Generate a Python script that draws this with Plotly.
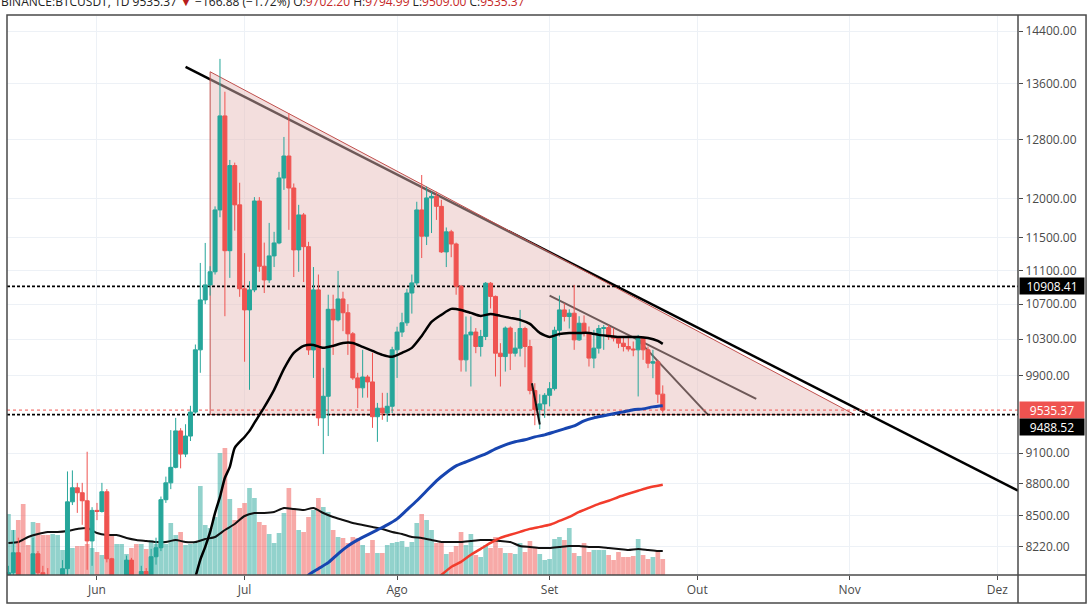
import math
import pandas as pd
import plotly.graph_objects as go

# daily candles BINANCE:BTCUSDT starting 2019-05-14
days = pd.date_range("2019-05-14", periods=134, freq="D")

opens = [7800, 7990, 8165, 7880, 7350, 7260, 8156, 7990, 7960, 7630,
         7880, 7930, 8025, 8630, 8763, 8716, 8640, 8271, 8550, 8540,
         8725, 8112, 7680, 7790, 7800, 8100, 7930, 7630, 8000, 7920,
         8130, 8210, 8650, 8810, 8960, 9322, 9090, 9270, 9515, 10181,
         10749, 10926, 11083, 11854, 13130, 11340, 12440, 11920, 10880, 10633,
         10867, 11970, 11150, 10985, 11276, 11436, 12273, 12570, 12140, 11350,
         11790, 11390, 10180, 10867, 9455, 9680, 10640, 10518, 10760, 10600,
         10360, 9875, 9769, 9885, 9832, 9467, 9555, 9505, 9575, 10181,
         10380, 10485, 10830, 10950, 11854, 11520, 12010, 12030, 11900, 11325,
         11575, 11423, 10910, 10071, 10348, 10380, 10218, 10330, 10946, 10790,
         10144, 10107, 10425, 10144, 10200, 10420, 10218, 9740, 9540, 9600,
         9690, 9760, 10400, 10633, 10557, 10595, 10292, 10480, 10375, 10090,
         10200, 10420, 10430, 10330, 10311, 10255, 10218, 10190, 10181, 10318,
         10181, 10035, 10050, 9702.20]
highs = [8050, 8370, 8300, 7930, 7450, 8300, 8180, 8050, 8030, 7960,
         7960, 8100, 8920, 8930, 8810, 8810, 9113, 8580, 8620, 8810,
         8750, 8120, 7900, 7880, 8140, 8120, 7940, 8050, 8030, 8200,
         8300, 8680, 8870, 9330, 9455, 9350, 9390, 9580, 10240, 11190,
         11436, 11150, 11900, 13970, 13480, 12516, 12480, 12210, 11310, 10970,
         12020, 12020, 11440, 11688, 11575, 12355, 12833, 13170, 12200, 11920,
         11815, 11450, 11140, 11050, 9984, 10810, 10810, 11093, 10845, 10700,
         10380, 9930, 10181, 9907, 10150, 9610, 9716, 9716, 10215, 10440,
         10600, 10880, 11050, 11960, 12313, 12160, 12090, 12090, 11985, 11630,
         11600, 11440, 10926, 10557, 10557, 10425, 10404, 10960, 10960, 10800,
         10255, 10443, 10443, 10380, 10633, 10440, 10292, 9818, 9700, 9713,
         9830, 10440, 10800, 10710, 10640, 10926, 10560, 10570, 10443, 10404,
         10460, 10460, 10460, 10425, 10330, 10330, 10311, 10274, 10348, 10330,
         10218, 10181, 10071, 9794.99]
lows = [7600, 7950, 7650, 6600, 7200, 7250, 7600, 7800, 7550, 7480,
        7800, 7900, 7950, 8600, 8527, 8417, 8015, 8050, 8460, 8530,
        8080, 7480, 7580, 7450, 7770, 7800, 7520, 7550, 7700, 7850,
        8060, 8180, 8620, 8750, 8950, 8950, 9060, 9220, 9500, 9930,
        10700, 10800, 11050, 11760, 10560, 11010, 11590, 10785, 10050, 9748,
        10840, 11083, 10830, 10950, 11140, 11420, 12115, 11600, 11020, 11083,
        10960, 10125, 9875, 9373, 9090, 9270, 10125, 10500, 10390, 10125,
        9854, 9556, 9665, 9665, 9353, 9212, 9435, 9414, 9505, 9875,
        10325, 10450, 10590, 10920, 11250, 11410, 11560, 11726, 11312, 11140,
        11260, 10810, 9943, 9943, 9783, 10144, 10107, 10290, 10650, 9890,
        9783, 9943, 9960, 10107, 10107, 9990, 9700, 9380, 9340, 9455,
        9574, 9740, 10330, 10500, 10420, 10181, 10280, 10330, 9998, 9980,
        10140, 10181, 10292, 10274, 10200, 10163, 10163, 10110, 9678, 10071,
        9980, 9872, 9609, 9509.00]
closes = [7990, 8165, 7880, 7350, 7260, 8156, 7990, 7960, 7630, 7880,
          7930, 8025, 8630, 8763, 8716, 8640, 8271, 8550, 8540, 8725,
          8112, 7680, 7790, 7800, 8100, 7930, 7630, 8000, 7920, 8130,
          8210, 8650, 8810, 8960, 9322, 9090, 9270, 9515, 10181, 10749,
          10926, 11083, 11854, 13130, 11340, 12440, 11920, 10880, 10633, 10867,
          11970, 11150, 10985, 11276, 11436, 12273, 12570, 12140, 11350, 11790,
          11390, 10180, 10867, 9455, 9680, 10640, 10518, 10760, 10600, 10360,
          9875, 9769, 9885, 9832, 9467, 9555, 9505, 9575, 10181, 10380,
          10485, 10830, 10950, 11854, 11520, 12010, 12030, 11900, 11325, 11575,
          11423, 10910, 10071, 10348, 10380, 10218, 10330, 10946, 10790, 10144,
          10107, 10425, 10144, 10200, 10420, 10218, 9740, 9540, 9600, 9690,
          9760, 10400, 10633, 10557, 10595, 10292, 10480, 10375, 10090, 10200,
          10420, 10430, 10330, 10311, 10255, 10218, 10190, 10181, 10318, 10181,
          10035, 10050, 9702.20, 9535.37]
# volume, thousand BTC
volumes = [61, 45, 55, 71, 30, 53, 52, 40, 40, 41,
           40, 25, 27, 27, 29, 29, 31, 27, 23, 20,
           59, 40, 31, 31, 21, 27, 31, 31, 26, 35,
           31, 31, 31, 52, 40, 43, 30, 31, 33, 89,
           50, 47, 58, 122, 127, 76, 55, 67, 72, 87,
           77, 53, 50, 41, 32, 42, 62, 87, 67, 45,
           43, 58, 65, 77, 68, 63, 45, 38, 37, 32,
           38, 37, 30, 22, 35, 22, 22, 30, 32, 33,
           34, 28, 33, 52, 61, 55, 45, 32, 33, 21,
           23, 29, 43, 30, 41, 20, 18, 30, 27, 38,
           27, 22, 22, 21, 32, 23, 34, 28, 21, 15,
           16, 36, 38, 35, 47, 22, 19, 32, 23, 25,
           25, 25, 20, 15, 23, 18, 18, 19, 36, 20,
           16, 18, 24, 16]

# moving averages (day index -> value)
ma_black_day = [38, 39, 40, 41, 42, 43, 44, 45, 46, 48, 49, 50, 52, 54, 56, 58, 60,
                62, 64, 66, 68, 70, 72, 74, 76, 78, 80, 82, 84, 86, 88, 90, 92, 94,
                96, 98, 100, 102, 104, 106, 108, 110, 112, 114, 116, 118, 120, 122,
                124, 126, 128, 130, 132, 133]
ma_black_val = [7950, 8103, 8217, 8352, 8527, 8676, 8859, 8964, 9152, 9261, 9322, 9404,
                9566, 9748, 9973, 10148, 10225, 10236, 10203, 10225, 10258, 10258, 10214,
                10170, 10126, 10104, 10148, 10203, 10336, 10495, 10576, 10645, 10633, 10599,
                10564, 10587, 10564, 10541, 10518, 10472, 10370, 10325, 10359, 10370, 10370,
                10370, 10348, 10336, 10325, 10325, 10325, 10314, 10280, 10247]
ma_blue_day = [60, 61, 63, 65, 67, 69, 71, 73, 75, 77, 79, 81, 83, 85, 87, 89, 91, 93,
               95, 97, 99, 101, 103, 105, 107, 109, 111, 113, 115, 117, 119, 121, 123,
               125, 127, 129, 131, 133]
ma_blue_val = [7900, 7970, 8025, 8078, 8156, 8226, 8280, 8326, 8371, 8417, 8472, 8555,
               8640, 8734, 8830, 8908, 8974, 9013, 9053, 9092, 9142, 9182, 9212, 9232,
               9262, 9282, 9312, 9343, 9373, 9424, 9455, 9476, 9497, 9517, 9538, 9548,
               9569, 9580]
ma_red_day = [87, 88, 90, 92, 94, 96, 98, 100, 102, 104, 106, 108, 110, 112, 114, 116,
              118, 120, 122, 124, 126, 128, 130, 132, 133]
ma_red_val = [7930, 7970, 8040, 8085, 8147, 8200, 8253, 8299, 8326, 8353, 8380, 8398,
              8417, 8453, 8490, 8536, 8574, 8611, 8640, 8676, 8706, 8734, 8763, 8782, 8791]
vol_ma_day = list(range(0, 134, 2)) + [133]
vol_ma_val = [32, 33, 38, 41, 43, 43, 44, 46, 47, 42, 40, 40, 37, 35, 34, 33, 33, 35,
              33, 33, 36, 38, 45, 51, 59, 62, 62, 63, 67, 66, 65, 67, 62, 58, 55, 52,
              50, 48, 46, 43, 41, 38, 37, 35, 33, 33, 33, 34, 35, 35, 34, 33, 29, 28,
              27, 27, 28, 29, 29, 28, 28, 27, 26, 25, 26, 25, 24, 24]

# drawings
level_top = 10908.41
level_base = 9488.52
last_price = 9535.37
trend_x = ["2019-06-19", "2019-12-05 05:00"]
trend_y = [13850, 8735]
tri_x = ["2019-06-24", "2019-06-24", "2019-11-02", "2019-06-24"]
tri_y = [13776, level_base, level_base, 13776]
wedge_a_x = ["2019-09-01", "2019-10-13"]
wedge_a_y = [10800, 9653]
wedge_b_x = ["2019-09-18 14:00", "2019-10-03 05:00"]
wedge_b_y = [10315, 9486]
tail_x = ["2019-08-28 10:00", "2019-08-30"]
tail_y = [9818, 9387]

x_range = ["2019-05-13 17:00", "2019-12-05 05:00"]
month_ticks = ["2019-06-01", "2019-07-01", "2019-08-01", "2019-09-01",
               "2019-10-01", "2019-11-01", "2019-12-01"]
month_labels = ["Jun", "Jul", "Ago", "Set", "Out", "Nov", "Dez"]
price_ticks = [8220, 8500, 8800, 9100, 9900, 10300, 10700, 11100, 11500, 12000, 12800, 13600, 14400]
price_range = [math.log10(7970), math.log10(14637)]

UP = "#26a69a"
DOWN = "#ef5350"
vol_colors = ["rgba(38,166,154,0.5)" if c >= o else "rgba(239,83,80,0.5)"
              for o, c in zip(opens, closes)]

def at(idx):
    return [days[i] for i in idx]

fig = go.Figure()

# volume (base axis)
fig.add_trace(go.Bar(x=days, y=volumes, marker_color=vol_colors, marker_line_width=0,
                     width=0.95 * 86400000, yaxis="y"))
fig.add_trace(go.Scatter(x=at(vol_ma_day), y=vol_ma_val, mode="lines", yaxis="y",
                         line=dict(color="#111111", width=2, shape="spline", smoothing=0.6)))

# drawings (y2, below the candles)
fig.add_trace(go.Scatter(x=trend_x, y=trend_y, mode="lines", yaxis="y2",
                         line=dict(color="#000000", width=2.5)))
fig.add_trace(go.Scatter(x=wedge_a_x, y=wedge_a_y, mode="lines", yaxis="y2",
                         line=dict(color="#000000", width=2)))
fig.add_trace(go.Scatter(x=wedge_b_x, y=wedge_b_y, mode="lines", yaxis="y2",
                         line=dict(color="#000000", width=2)))
fig.add_trace(go.Scatter(x=tri_x, y=tri_y, mode="lines", yaxis="y2", fill="toself",
                         fillcolor="rgba(229,187,183,0.48)",
                         line=dict(color="#c0504d", width=1)))

# horizontal levels
fig.add_trace(go.Scatter(x=x_range, y=[level_top, level_top], mode="lines", yaxis="y2",
                         line=dict(color="#000000", width=1.6, dash="3px,2px")))
fig.add_trace(go.Scatter(x=x_range, y=[level_base, level_base], mode="lines", yaxis="y2",
                         line=dict(color="#000000", width=1.6, dash="3px,2px")))
fig.add_trace(go.Scatter(x=x_range, y=[last_price, last_price], mode="lines", yaxis="y2",
                         line=dict(color=DOWN, width=1, dash="dot")))

# candles and averages (y3, on top)
fig.add_trace(go.Candlestick(x=days, open=opens, high=highs, low=lows, close=closes,
                             yaxis="y3", whiskerwidth=0,
                             increasing=dict(line=dict(color=UP, width=1), fillcolor=UP),
                             decreasing=dict(line=dict(color=DOWN, width=1), fillcolor=DOWN)))
fig.add_trace(go.Scatter(x=at(ma_black_day), y=ma_black_val, mode="lines", yaxis="y3",
                         line=dict(color="#000000", width=2.5, shape="spline", smoothing=0.6)))
fig.add_trace(go.Scatter(x=at(ma_blue_day), y=ma_blue_val, mode="lines", yaxis="y3",
                         line=dict(color="#1745b0", width=3, shape="spline", smoothing=0.6)))
fig.add_trace(go.Scatter(x=at(ma_red_day), y=ma_red_val, mode="lines", yaxis="y3",
                         line=dict(color="#f23c2c", width=2.5, shape="spline", smoothing=0.6)))
fig.add_trace(go.Scatter(x=tail_x, y=tail_y, mode="lines", yaxis="y3",
                         line=dict(color="#111111", width=2)))

frame = "#4a4a4a"
fig.update_layout(
    width=1092, height=614,
    margin=dict(l=7, r=74, t=16, b=39),
    paper_bgcolor="white", plot_bgcolor="white",
    showlegend=False,
    boxgap=0.1, boxgroupgap=0.1,
    font=dict(family="Open Sans", size=12, color="#4a4a4a"),
    xaxis=dict(type="date", range=x_range, tickvals=month_ticks, ticktext=month_labels,
               showgrid=True, gridcolor="#edf1f6", ticks="outside", ticklen=4,
               tickcolor=frame, zeroline=False, rangeslider=dict(visible=False)),
    yaxis=dict(range=[0, 559], visible=False, showgrid=False),
    yaxis2=dict(overlaying="y", side="right", type="log", range=price_range,
                tickvals=price_ticks, ticktext=[f"{v:.2f}" for v in price_ticks],
                showgrid=True, gridcolor="#edf1f6", ticks="outside", ticklen=4,
                tickcolor=frame, zeroline=False),
    yaxis3=dict(overlaying="y", side="right", type="log", range=price_range,
                visible=False, showgrid=False),
    shapes=[
        dict(type="rect", xref="paper", yref="paper", x0=0, x1=1.0673, y0=-0.0501, y1=1.0018,
             line=dict(color=frame, width=1.5)),
        dict(type="line", xref="paper", yref="paper", x0=1, x1=1, y0=-0.0501, y1=1.0018,
             line=dict(color=frame, width=1.5)),
        dict(type="line", xref="paper", yref="paper", x0=0, x1=1.0673, y0=0, y1=0,
             line=dict(color=frame, width=1.5)),
    ],
)

header = ("BINANCE:BTCUSDT, 1D&nbsp;9535.37 <span style='color:#b71c1c'>▼</span> −166.88 (−1.72%)"
          " O:<span style='color:#c62828'>9702.20</span>"
          " H:<span style='color:#c62828'>9794.99</span>"
          " L:<span style='color:#c62828'>9509.00</span>"
          " C:<span style='color:#c62828'>9535.37</span>")
fig.add_annotation(xref="paper", yref="paper", x=-0.0069, y=1.009, xanchor="left", yanchor="bottom",
                   text=header, showarrow=False, borderpad=0,
                   font=dict(family="Open Sans", size=12, color="#222222"))

for val, bg, shift in [(level_top, "#000000", 0), (last_price, DOWN, 0), (level_base, "#000000", -12)]:
    fig.add_annotation(xref="paper", yref="y2", x=1, y=math.log10(val), xanchor="left",
                       yanchor="middle", xshift=1, yshift=shift, text=f"{val:.2f}",
                       showarrow=False, bgcolor=bg, width=62, height=14, borderpad=1,
                       font=dict(family="Open Sans", size=12, color="white"))

fig.write_html("out.html", config={"displayModeBar": False},
               post_script="document.body.style.margin='0';document.body.style.overflow='hidden';")
